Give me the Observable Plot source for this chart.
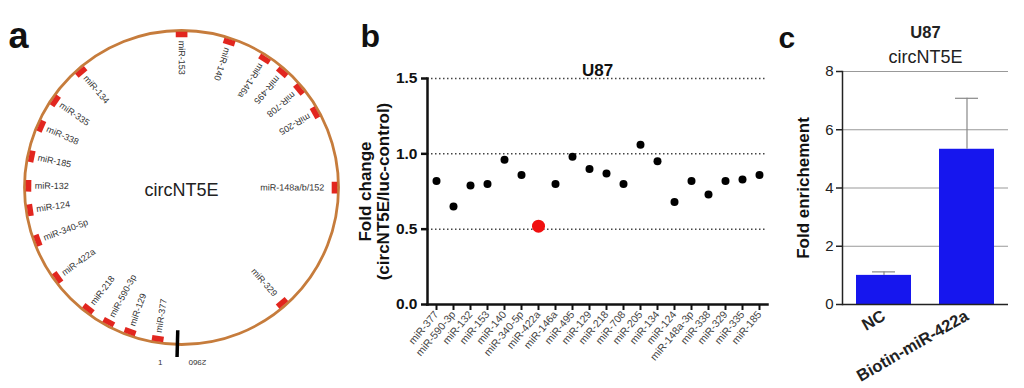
<!DOCTYPE html>
<html><head><meta charset="utf-8">
<script src="https://cdn.jsdelivr.net/npm/d3@7"></script>
<script src="https://cdn.jsdelivr.net/npm/@observablehq/plot@0.6"></script>
<style>
body{margin:0;background:#fff;}
#fig{position:relative;width:1024px;height:388px;overflow:hidden;}
#fig svg{position:absolute;top:0;}
</style></head>
<body><div id="fig"></div>
<script>
// ---------- data ----------
const panelLetters = ["a", "b", "c"];
// panel a: miRNA binding sites along circNT5E (nt positions)
const circName = "circNT5E";
const circLength = 2960;
const circMirs = ["miR-377","miR-129","miR-590-3p","miR-218","miR-422a","miR-340-5p","miR-124","miR-132","miR-185","miR-338","miR-335","miR-134","miR-153","miR-140","miR-146a","miR-495","miR-708","miR-205","miR-148a/b/152","miR-329"];
const circPos = [61,149,221,296,432,562,658,733,824,922,1011,1131,1468,1617,1738,1806,1880,1967,2208,2610];
// panel b
const titleB = "U87";
const mirs = ["miR-377","miR-590-3p","miR-132","miR-153","miR-140","miR-340-5p","miR-422a","miR-146a","miR-495","miR-129","miR-218","miR-708","miR-205","miR-134","miR-124","miR-148a-3p","miR-338","miR-329","miR-335","miR-185"];
const foldChange = [0.82,0.65,0.79,0.80,0.96,0.86,0.52,0.80,0.98,0.90,0.87,0.80,1.06,0.95,0.68,0.82,0.73,0.82,0.83,0.86];
const highlightMir = "miR-422a";
const yTicksB = [0, 0.5, 1.0, 1.5];
const yLabelB = "Fold change\n(circNT5E/luc-control)";
// panel c
const titleC = ["U87", "circNT5E"];
const groups = ["NC", "Biotin-miR-422a"];
const enrichment = [1.0, 5.33];
const enrichmentErr = [0.12, 1.75];
const yTicksC = [0, 2, 4, 6, 8];
const yLabelC = "Fold enrichement";

// ---------- common ----------
const FONT = "Liberation Sans, Arial, Helvetica, sans-serif";
const fig = document.getElementById("fig");
function place(svg, left) { svg.style.left = left + "px"; fig.appendChild(svg); }

// ---------- panel a ----------
{
  const K = 157, CX = 181, CY = 187, W = 340, H = 388;
  const startDeg = 181.5;
  const deg = p => ((startDeg + p / circLength * 360) % 360 + 360) % 360;
  const X = (p, r) => r * Math.sin(deg(p) * Math.PI / 180);
  const Y = (p, r) => r * Math.cos(deg(p) * Math.PI / 180);
  const data = circMirs.map((name, i) => ({name, pos: circPos[i], theta: deg(circPos[i])}));
  const flipped = d => d.theta > 75 && d.theta < 180;
  const half = 18; // half marker length in nt
  const svg = Plot.plot({
    width: W, height: H, margin: 0,
    style: {fontFamily: FONT, background: "transparent", overflow: "visible"},
    x: {axis: null, domain: [-CX / K, (W - CX) / K]},
    y: {axis: null, domain: [-(H - CY) / K, CY / K]},
    marks: [
      Plot.dot([{x: 0, y: 0}], {x: "x", y: "y", r: K, fill: "none", stroke: "#c67c3c", strokeWidth: 2.8}),
      Plot.link(data, {
        x1: d => X(d.pos - half, 0.975), y1: d => Y(d.pos - half, 0.975),
        x2: d => X(d.pos + half, 0.975), y2: d => Y(d.pos + half, 0.975),
        stroke: "#e2261f", strokeWidth: 5.5
      }),
      Plot.text(data.filter(d => !flipped(d)), {
        x: d => X(d.pos, 0.935), y: d => Y(d.pos, 0.935), text: "name",
        rotate: d => d.theta + 90, textAnchor: "start", fontSize: 9, fill: "#333"
      }),
      Plot.text(data.filter(flipped), {
        x: d => X(d.pos, 0.91), y: d => Y(d.pos, 0.91), text: "name",
        rotate: d => d.theta - 90, textAnchor: "end", fontSize: 9, fill: "#333"
      }),
      Plot.link([0], {x1: X(0, 0.91), y1: Y(0, 0.91), x2: X(0, 1.08), y2: Y(0, 1.08), stroke: "#000", strokeWidth: 3.5}),
      Plot.text(["1"], {x: X(45, 1.12), y: Y(45, 1.12), text: d => d, fontSize: 8, fill: "#333"}),
      Plot.text([String(circLength)], {x: X(-55, 1.12), y: Y(-55, 1.12), text: d => d, rotate: 180, fontSize: 8, fill: "#333"}),
      Plot.text([circName], {x: 0, y: -0.02, text: d => d, fontSize: 18, fill: "#222"}),
      Plot.text([panelLetters[0]], {frameAnchor: "top-left", dx: 8, dy: 47, lineAnchor: "bottom", text: d => d, fontSize: 36, fontWeight: "bold", fill: "#111"})
    ]
  });
  place(svg, 0);
}

// ---------- panel b ----------
{
  const data = mirs.map((name, i) => ({name, value: foldChange[i]}));
  const svg = Plot.plot({
    width: 440, height: 388, marginLeft: 87, marginRight: 13, marginTop: 78, marginBottom: 84,
    style: {fontFamily: FONT, background: "transparent", overflow: "visible"},
    x: {type: "point", domain: mirs, padding: 0.5},
    y: {domain: [0, 1.5]},
    marks: [
      Plot.ruleY(yTicksB.filter(v => v > 0), {stroke: "#444", strokeWidth: 1.5, strokeDasharray: "1.5,2.5"}),
      Plot.frame({anchor: "left", stroke: "#111", strokeWidth: 2.5}),
      Plot.frame({anchor: "bottom", stroke: "#111", strokeWidth: 2.5}),
      Plot.axisY({ticks: yTicksB, tickFormat: d3.format(".1f"), tickSize: 6, tickPadding: 4, strokeWidth: 2.5, stroke: "#111", fontSize: 15.5, fontWeight: "bold", fill: "#111", label: null}),
      Plot.axisX({tickSize: 6, tickPadding: 2, tickRotate: -50, strokeWidth: 2, stroke: "#111", fontSize: 10.5, fill: "#444", label: null}),
      Plot.dot(data.filter(d => d.name !== highlightMir), {x: "name", y: "value", r: 4, fill: "#000"}),
      Plot.dot(data.filter(d => d.name === highlightMir), {x: "name", y: "value", r: 6.5, fill: "#f01010"}),
      Plot.text([titleB], {frameAnchor: "top", dy: -15, text: d => d, fontSize: 17, fontWeight: "bold", fill: "#111"}),
      Plot.text([yLabelB], {frameAnchor: "left", textAnchor: "middle", dx: -53, rotate: -90, text: d => d, fontSize: 17, fontWeight: "bold", lineHeight: 1.06, fill: "#111"}),
      Plot.text([panelLetters[1]], {frameAnchor: "top-left", dx: -67, dy: -32, textAnchor: "start", lineAnchor: "bottom", text: d => d, fontSize: 32, fontWeight: "bold", fill: "#111"})
    ]
  });
  place(svg, 340);
}

// ---------- panel c ----------
{
  const data = groups.map((group, i) => ({group, value: enrichment[i], err: enrichmentErr[i]}));
  const svg = Plot.plot({
    width: 254, height: 388, marginLeft: 72, marginRight: 16, marginTop: 71, marginBottom: 84,
    style: {fontFamily: FONT, background: "transparent", overflow: "visible"},
    x: {type: "band", domain: groups, paddingInner: 0.34, paddingOuter: 0.17},
    y: {domain: [0, 8]},
    marks: [
      Plot.ruleY(yTicksC.filter(v => v > 0), {stroke: "#999", strokeWidth: 1}),
      Plot.barY(data, {x: "group", y: "value", fill: "#1616ee"}),
      Plot.ruleX(data, {x: "group", y1: "value", y2: d => d.value + d.err, stroke: "#888", strokeWidth: 1.2}),
      Plot.tickY(data, {x: "group", y: d => d.value + d.err, stroke: "#888", strokeWidth: 1.2, insetLeft: 16, insetRight: 16}),
      Plot.frame({anchor: "left", stroke: "#222", strokeWidth: 1.5}),
      Plot.ruleY([0], {stroke: "#222", strokeWidth: 1.5}),
      Plot.axisY({ticks: yTicksC, tickSize: 6, tickPadding: 3, strokeWidth: 1.5, stroke: "#222", fontSize: 15, fill: "#222", label: null}),
      Plot.axisX({tickSize: 0, tickPadding: 10, tickRotate: -30, fontSize: 16.5, fontWeight: "bold", fill: "#222", label: null}),
      Plot.text([titleC[0]], {frameAnchor: "top", dy: -45, text: d => d, fontSize: 16.5, fontWeight: "bold", fill: "#222"}),
      Plot.text([titleC[1]], {frameAnchor: "top", dy: -21, text: d => d, fontSize: 18, fill: "#222"}),
      Plot.text([yLabelC], {frameAnchor: "left", textAnchor: "middle", dx: -39, rotate: -90, text: d => d, fontSize: 17, fontWeight: "bold", fill: "#111"}),
      Plot.text([panelLetters[2]], {frameAnchor: "top-left", dx: -64, dy: -24, textAnchor: "start", lineAnchor: "bottom", text: d => d, fontSize: 30, fontWeight: "bold", fill: "#111"})
    ]
  });
  place(svg, 770);
}
</script>
</body></html>
